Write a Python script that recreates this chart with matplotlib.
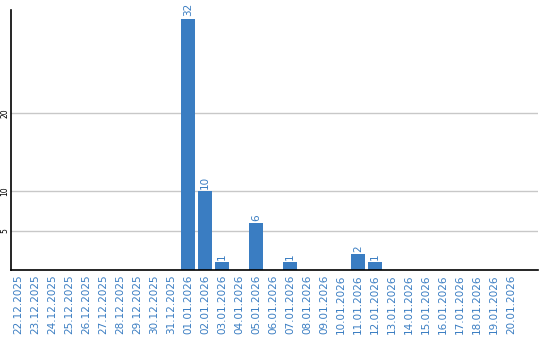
import matplotlib
matplotlib.use("Agg")
import matplotlib.pyplot as plt
import numpy as np

dates = ["22.12.2025", "23.12.2025", "24.12.2025", "25.12.2025", "26.12.2025",
         "27.12.2025", "28.12.2025", "29.12.2025", "30.12.2025", "31.12.2025",
         "01.01.2026", "02.01.2026", "03.01.2026", "04.01.2026", "05.01.2026",
         "06.01.2026", "07.01.2026", "08.01.2026", "09.01.2026", "10.01.2026",
         "11.01.2026", "12.01.2026", "13.01.2026", "14.01.2026", "15.01.2026",
         "16.01.2026", "17.01.2026", "18.01.2026", "19.01.2026", "20.01.2026"]
counts = [0, 0, 0, 0, 0, 0, 0, 0, 0, 0,
          32, 10, 1, 0, 6, 0, 1, 0, 0, 0,
          2, 1, 0, 0, 0, 0, 0, 0, 0, 0]
yticks = [5, 10, 20]

blue = "#3a7dc2"

fig = plt.figure(figsize=(5.4, 3.4), dpi=100)
ax = fig.add_axes([0.0204, 0.2059, 0.9759, 0.7647])

x = np.arange(len(dates))
ax.bar(x, counts, width=0.82, color=blue, zorder=3)

for xi, c in zip(x, counts):
    if c > 0:
        ax.text(xi, c + 0.3, str(c), rotation=90, ha="center", va="bottom",
                color=blue, fontsize=7.5)

ax.set_xlim(-0.41, 30.59)
ax.set_ylim(0, 33.1)
ax.set_yticks(yticks)
ax.set_yticklabels([str(t) for t in yticks], rotation=90, va="center",
                   fontsize=5.5, color="black")
ax.set_xticks(x)
ax.set_xticklabels(dates, rotation=90, fontsize=7.5, color=blue)
ax.tick_params(axis="x", length=0, pad=3)
ax.tick_params(axis="y", length=0, pad=1)
ax.grid(axis="y", color="#c8c8c8", linewidth=1, zorder=0)

for side in ["top", "right"]:
    ax.spines[side].set_visible(False)
ax.spines["left"].set_linewidth(1.2)
ax.spines["bottom"].set_linewidth(1.2)
ax.spines["left"].set_zorder(4)
ax.spines["bottom"].set_zorder(4)

fig.savefig("out.png", dpi=100)
